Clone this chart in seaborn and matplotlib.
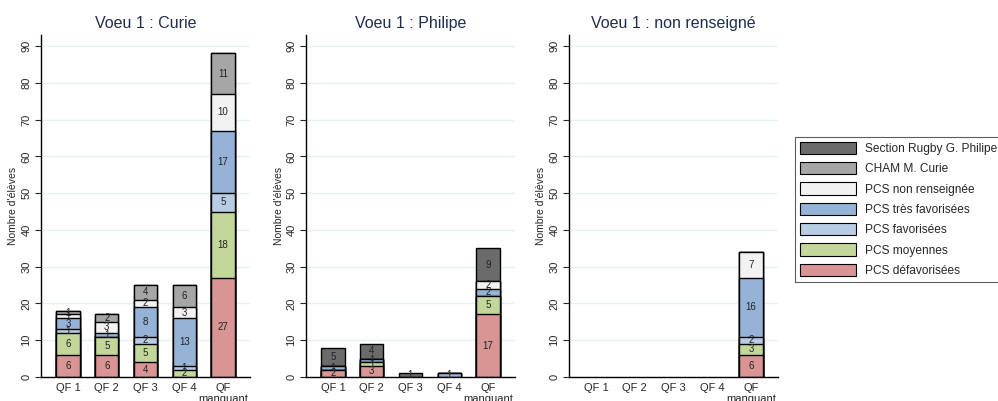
import numpy as np
import pandas as pd
import matplotlib
matplotlib.use("Agg")
import matplotlib.pyplot as plt
import seaborn as sns
from matplotlib.patches import Patch

sns.set_style("white")
plt.rcParams['font.family'] = ['Liberation Sans', 'DejaVu Sans']

# ---- data ----
panels = ["Voeu 1 : Curie", "Voeu 1 : Philipe", "Voeu 1 : non renseigné"]
qf_labels = ["QF 1", "QF 2", "QF 3", "QF 4", "QF\nmanquant"]
# stacking order bottom -> top
categories = ["PCS défavorisées", "PCS moyennes", "PCS favorisées",
              "PCS très favorisées", "PCS non renseignée",
              "CHAM M. Curie", "Section Rugby G. Philipe"]
colors = ["#d99594", "#c4d79b", "#b8cce4", "#95b3d7", "#f2f2f2",
          "#a6a6a6", "#6b6b6b"]

# values per panel: QF1..QF manquant
curie_defav      = [6, 6, 4, 0, 27]
curie_moyennes   = [6, 5, 5, 2, 18]
curie_fav        = [1, 0, 2, 1, 5]
curie_tres_fav   = [3, 1, 8, 13, 17]
curie_non_rens   = [1, 3, 2, 3, 10]
curie_cham       = [1, 2, 4, 6, 11]
curie_rugby      = [0, 0, 0, 0, 0]

philipe_defav    = [2, 3, 0, 0, 17]
philipe_moyennes = [0, 1, 0, 0, 5]
philipe_fav      = [0, 0, 0, 0, 0]
philipe_tres_fav = [1, 1, 0, 1, 2]
philipe_non_rens = [0, 0, 0, 0, 2]
philipe_cham     = [0, 0, 0, 0, 0]
philipe_rugby    = [5, 4, 1, 0, 9]

nr_defav         = [0, 0, 0, 0, 6]
nr_moyennes      = [0, 0, 0, 0, 3]
nr_fav           = [0, 0, 0, 0, 2]
nr_tres_fav      = [0, 0, 0, 0, 16]
nr_non_rens      = [0, 0, 0, 0, 7]
nr_cham          = [0, 0, 0, 0, 0]
nr_rugby         = [0, 0, 0, 0, 0]

panel_data = [
    [curie_defav, curie_moyennes, curie_fav, curie_tres_fav, curie_non_rens, curie_cham, curie_rugby],
    [philipe_defav, philipe_moyennes, philipe_fav, philipe_tres_fav, philipe_non_rens, philipe_cham, philipe_rugby],
    [nr_defav, nr_moyennes, nr_fav, nr_tres_fav, nr_non_rens, nr_cham, nr_rugby],
]

W, H = 998, 401
fig = plt.figure(figsize=(W / 100, H / 100), dpi=100)

lefts = [41, 306, 569]
ax_w = 209
ax_bottom = 377
ax_top = 35
title_color = "#1f2d4e"

for p, (title, data) in enumerate(zip(panels, panel_data)):
    ax = fig.add_axes([lefts[p] / W, 1 - ax_bottom / H, ax_w / W, (ax_bottom - ax_top) / H])
    arr = np.array(data)
    cum = np.cumsum(arr, axis=0)
    # draw cumulative bars from top category down so segments appear stacked
    for k in range(len(categories) - 1, -1, -1):
        df = pd.DataFrame({"qf": qf_labels, "val": cum[k]})
        sns.barplot(data=df, x="qf", y="val", order=qf_labels, color=colors[k],
                    saturation=1, width=0.6, edgecolor="black", linewidth=1.0,
                    ax=ax, zorder=2)
    for patch in ax.patches:
        if patch.get_height() == 0:
            patch.set_visible(False)
    # segment labels
    for k in range(len(categories)):
        for i in range(len(qf_labels)):
            v = arr[k, i]
            if v > 0:
                base = cum[k, i] - v
                ax.text(i, base + v / 2, str(v), ha="center", va="center",
                        fontsize=7, color="#222222", zorder=5)
    ax.set_xlim(-0.7, 4.7)
    ax.set_ylim(0, 93)
    ax.set_yticks(np.arange(0, 91, 10))
    ax.set_yticklabels([str(t) for t in range(0, 91, 10)], rotation=90, va="center", fontsize=8)
    ax.tick_params(axis="y", length=4, width=0.8, pad=3, left=True)
    ax.tick_params(axis="x", length=0, labelsize=8, pad=4)
    ax.set_xlabel("")
    ax.set_ylabel("Nombre d'élèves", fontsize=7.5, labelpad=2)
    ax.yaxis.grid(True, color="#e8f1f2", linewidth=1.0, zorder=0)
    ax.set_axisbelow(True)
    for s in ["top", "right"]:
        ax.spines[s].set_visible(False)
    for s in ["left", "bottom"]:
        ax.spines[s].set_color("black")
        ax.spines[s].set_linewidth(1.0)
    ax.set_title(title, fontsize=11.5, color=title_color, pad=5)

handles = [Patch(facecolor=colors[k], edgecolor="black", linewidth=0.8, label=categories[k])
           for k in range(len(categories) - 1, -1, -1)]
leg = fig.legend(handles=handles, loc="upper left",
                 bbox_to_anchor=(795 / W, 1 - 137 / H), frameon=True, fancybox=False,
                 edgecolor="#333333", fontsize=8.6, handlelength=4.7, handleheight=1.2,
                 labelspacing=0.6, borderpad=0.4, handletextpad=0.8, borderaxespad=0)
leg.get_frame().set_linewidth(0.8)

fig.savefig("out.png", dpi=100)
